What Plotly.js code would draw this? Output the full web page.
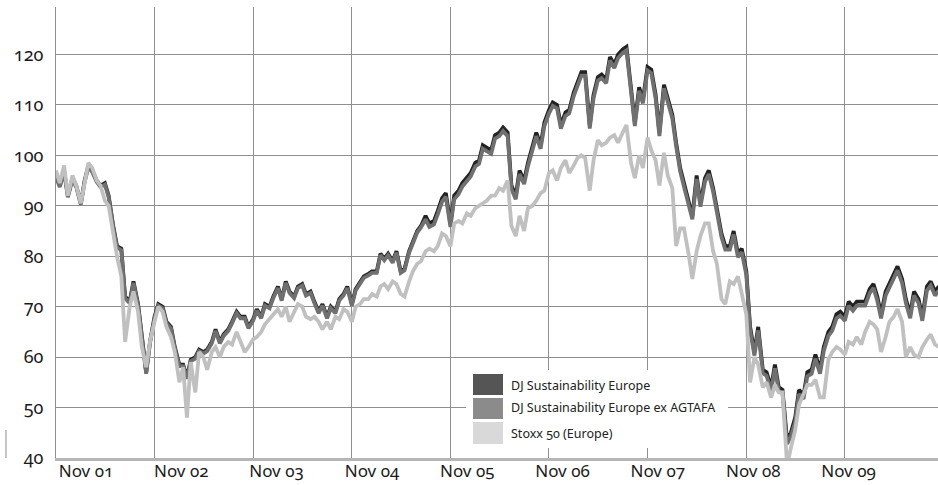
<!DOCTYPE html>
<html>
<head>
<meta charset="utf-8">
<script src="https://cdn.plot.ly/plotly-3.0.1.min.js"></script>
<style>
  html, body { margin: 0; padding: 0; background: #fff; }
  #chart { width: 938px; height: 485px; }
  svg text { font-feature-settings: "onum" 1; font-variant-numeric: oldstyle-nums; }
</style>
</head>
<body>
<div id="chart"></div>
<script>
const dates = [
"2001-11-01","2001-11-15","2001-12-01","2001-12-15",
"2002-01-01","2002-01-15","2002-02-01","2002-02-15","2002-03-01","2002-03-15","2002-04-01","2002-04-15","2002-05-01","2002-05-15","2002-06-01","2002-06-15","2002-07-01","2002-07-15","2002-08-01","2002-08-15","2002-09-01","2002-09-15","2002-10-01","2002-10-15","2002-11-01","2002-11-15","2002-12-01","2002-12-15",
"2003-01-01","2003-01-15","2003-02-01","2003-02-15","2003-03-01","2003-03-15","2003-04-01","2003-04-15","2003-05-01","2003-05-15","2003-06-01","2003-06-15","2003-07-01","2003-07-15","2003-08-01","2003-08-15","2003-09-01","2003-09-15","2003-10-01","2003-10-15","2003-11-01","2003-11-15","2003-12-01","2003-12-15",
"2004-01-01","2004-01-15","2004-02-01","2004-02-15","2004-03-01","2004-03-15","2004-04-01","2004-04-15","2004-05-01","2004-05-15","2004-06-01","2004-06-15","2004-07-01","2004-07-15","2004-08-01","2004-08-15","2004-09-01","2004-09-15","2004-10-01","2004-10-15","2004-11-01","2004-11-15","2004-12-01","2004-12-15",
"2005-01-01","2005-01-15","2005-02-01","2005-02-15","2005-03-01","2005-03-15","2005-04-01","2005-04-15","2005-05-01","2005-05-15","2005-06-01","2005-06-15","2005-07-01","2005-07-15","2005-08-01","2005-08-15","2005-09-01","2005-09-15","2005-10-01","2005-10-15","2005-11-01","2005-11-15","2005-12-01","2005-12-15",
"2006-01-01","2006-01-15","2006-02-01","2006-02-15","2006-03-01","2006-03-15","2006-04-01","2006-04-15","2006-05-01","2006-05-15","2006-06-01","2006-06-15","2006-07-01","2006-07-15","2006-08-01","2006-08-15","2006-09-01","2006-09-15","2006-10-01","2006-10-15","2006-11-01","2006-11-15","2006-12-01","2006-12-15",
"2007-01-01","2007-01-15","2007-02-01","2007-02-15","2007-03-01","2007-03-15","2007-04-01","2007-04-15","2007-05-01","2007-05-15","2007-06-01","2007-06-15","2007-07-01","2007-07-15","2007-08-01","2007-08-15","2007-09-01","2007-09-15","2007-10-01","2007-10-15","2007-11-01","2007-11-15","2007-12-01","2007-12-15",
"2008-01-01","2008-01-15","2008-02-01","2008-02-15","2008-03-01","2008-03-15","2008-04-01","2008-04-15","2008-05-01","2008-05-15","2008-06-01","2008-06-15","2008-07-01","2008-07-15","2008-08-01","2008-08-15","2008-09-01","2008-09-15","2008-10-01","2008-10-15","2008-11-01","2008-11-15","2008-12-01","2008-12-15",
"2009-01-01","2009-01-15","2009-02-01","2009-02-15","2009-03-01","2009-03-15","2009-04-01","2009-04-15","2009-05-01","2009-05-15","2009-06-01","2009-06-15","2009-07-01","2009-07-15","2009-08-01","2009-08-15","2009-09-01","2009-09-15","2009-10-01","2009-10-15","2009-11-01","2009-11-15","2009-12-01","2009-12-15",
"2010-01-01","2010-01-15","2010-02-01","2010-02-15","2010-03-01","2010-03-15","2010-04-01","2010-04-15","2010-05-01","2010-05-15","2010-06-01","2010-06-15","2010-07-01","2010-07-15","2010-08-01","2010-08-15","2010-09-01","2010-09-15","2010-10-01","2010-10-15"
];

const djsi = [
96,94,97,92,95.5,94,90.5,95,98,97,95,94,94.5,92,86,82,81.5,72,71,75,70.5,64,57,63,68,
70.5,70,67,66,62,58.5,58.5,56,59.5,60,61.5,61,61.5,63,65.5,63,64.5,65.5,67,69,68,68,66,67.5,
69.5,68,70.5,70,72,74,71.5,75,73,72,74,74.5,72.5,73,71,69,70.5,68,70,69,71.5,72.5,74,
70.5,73.5,75,76,76.5,77,77,80.5,79.5,80.5,79,81,77,77.5,81,83,85,86,88,86.5,87,89,
91.5,92.5,86.5,92,93,94.5,95.5,96.5,98.5,99,102,101.5,101,104,104.5,105.5,104.5,94,92,97,
95,98.5,101.5,104.5,102,106.5,109,110.5,110,106,108.5,109,112.5,114.5,116.5,116.5,106,112,
115.5,116,115,119.5,118,120,121,121.5,112.5,106.5,113.5,111,117.5,117,112,104.5,114,111,
108,102.5,97.5,94.5,90.5,88,96,90.5,95.5,97,93.5,89.5,84.5,82,82,85,80.5,81.5,77,66,61,
66,57.5,57,54,58.5,54,53.5,43.5,45,48,53.5,52.5,57,57.5,60.5,57.5,62,65,66,68.5,69,68,
71,70,71,71,71,73.5,74.5,72,68.5,73,74.5,76.5,78,75.5,71.5,68.5,73,71.5,68,74,75,73,74
];

const djsiEx = [
95.7,93.7,96.7,91.7,95.2,93.7,90.2,94.7,97.7,96.7,94.7,93.7,94.2,91.7,85.7,81.7,81.2,71.7,70.7,74.7,70.2,63.7,56.7,62.7,67.7,
70.2,69.7,66.7,65.7,61.7,58.2,58.2,55.7,59.2,59.7,61.2,60.7,61.2,62.7,65.2,62.7,64.2,65.2,66.7,68.7,67.7,67.7,65.7,67.2,
69.2,67.7,70.2,69.7,71.7,73.7,71.2,74.7,72.7,71.7,73.7,74.2,72.2,72.7,70.7,68.7,70.2,67.7,69.7,68.7,71.2,72.2,73.7,
70.2,73.2,74.7,75.7,76.2,76.7,76.7,80.2,79.2,80.2,78.7,80.7,76.7,77.2,80.7,82.7,84.7,85.7,87.3,85.8,86.3,88.3,
90.8,91.8,85.8,91.3,92.3,93.8,94.8,95.8,97.8,98.3,101.3,100.8,100.3,103.3,103.8,104.8,103.8,93.3,91.3,96.3,
94.3,97.8,100.8,103.8,101.3,105.8,108.3,109.8,109.3,105.3,107.8,108.3,111.8,113.8,115.8,115.8,105.3,111.3,
114.8,115.3,114.3,118.8,117.3,119.3,120.3,120.8,111.8,105.8,112.8,110.3,116.8,116.3,111.3,103.8,113.3,110.3,
107.3,101.8,96.8,93.8,89.8,87.3,95.3,89.8,94.8,96.3,92.8,88.8,83.8,81.3,81.3,84.3,79.8,80.8,76.3,65.3,60.3,
65.3,56.8,56.3,53.3,57.8,53.3,52.8,42.8,44.3,47.2,52.7,51.7,56.2,56.7,59.7,56.7,61.2,64.2,65.2,67.7,68.2,67.2,
70.2,69.2,70.2,70.2,70.2,72.7,73.7,71.2,67.7,72.2,73.7,75.7,77.2,74.7,70.7,67.7,72.2,70.7,67.2,73.2,74.2,72.2,73.2
];

const stoxx = [
97,94.5,98,92,96,94,90.5,95,98.5,97.5,95,94,91,90,84,80,76,63,70,73,69,62,58,63,67,
70,69,66,64,61,55,58,48,59,53,61,60,57.5,61,62,60,62,63,62.5,65,63,61,62,63.5,
64,65,66.5,67.5,68.5,69.5,68,70,67,69,70.5,70,68,67.5,68,67,65.5,67,65.5,68,67.5,69.5,69,
67,70,70.5,71.5,71.5,72.5,72,74,74.5,73.5,75,74.5,72.5,72,75,77,78.5,79,81,81.5,81,82,
84.5,84,82,86.5,87,86.5,88.5,88,89.5,90,90.5,91,92,92,93.5,93,95,86,84,88,
85,89.5,90,91,92.5,93,96.5,97,95,97.5,99,96.5,98,99.5,100,99.5,93,99,
103,102,102.5,103.5,104,102.5,104.5,106,98.5,95.5,100,97.5,103.5,101,99,94,100.5,96,
93.5,82,85.5,85.5,80.5,75.5,81,84,86.5,86.5,81,78.5,71.5,70.5,75,74.5,76,72.5,68.5,55,60,
58.5,54,55,52,54.5,53,53,38.5,42,45.5,50.5,52.5,54.5,54.5,55.5,52,52,59.5,61,62,61.5,60.5,
63,62.5,64,62.5,65,67,66.5,65.5,61,64,67,68,69.5,67,60,62,60.5,60,62,63.5,64.5,62.5,62
];

const seriesNames = ["DJ Sustainability Europe", "DJ Sustainability Europe ex AGTAFA", "Stoxx 50 (Europe)"];
const lineColors = ["#222222", "#707070", "#c0c0c0"];
const swatchColors = ["#555555", "#8b8b8b", "#d9d9d9"];

const gridDates = ["2001-11-01","2002-11-01","2003-11-01","2004-11-01","2005-11-01","2006-11-01","2007-11-01","2008-11-01","2009-11-01"];
const xTickText = ["Nov 01","Nov 02","Nov 03","Nov 04","Nov 05","Nov 06","Nov 07","Nov 08","Nov 09"];
const yTicks = [40,50,60,70,80,90,100,110,120];

const values = [djsi, djsiEx, stoxx];
const traces = values.map((v, k) => ({
  type: "scatter", mode: "lines", x: dates, y: v, name: seriesNames[k],
  line: {color: lineColors[k], width: 3.8}, showlegend: false, hoverinfo: "skip"
}));
// empty carrier so the label axis (x2) is drawn
traces.push({type: "scatter", mode: "lines", x: [], y: [], xaxis: "x2", yaxis: "y", showlegend: false, hoverinfo: "skip"});

const lx0 = 0.4728, lx1 = 0.5068;
const swY = [[0.1397, 0.1863], [0.0865, 0.1330], [0.0310, 0.0798]];
const txtY = [0.1608, 0.1109, 0.0554];
const shapes = [
  {type: "rect", xref: "paper", yref: "paper", x0: 0.4649, x1: 0.7619, y0: 0.0222, y1: 0.1951,
   fillcolor: "#ffffff", line: {width: 0}, layer: "above"},
  {type: "line", xref: "paper", yref: "paper", x0: -0.0567, x1: -0.0567, y0: 0.0, y1: 0.062,
   line: {color: "#8c8c8c", width: 1}}
];
const annotations = [];
seriesNames.forEach((n, k) => {
  shapes.push({type: "rect", xref: "paper", yref: "paper", x0: lx0, x1: lx1, y0: swY[k][0], y1: swY[k][1],
    fillcolor: swatchColors[k], line: {width: 0}, layer: "above"});
  annotations.push({xref: "paper", yref: "paper", x: 0.5136, y: txtY[k], xanchor: "left", yanchor: "middle",
    text: n, showarrow: false, font: {family: "Noto Sans, sans-serif", size: 12.5, color: "#222222"}});
});

const layout = {
  width: 938, height: 485,
  margin: {l: 56, r: 0, t: 7, b: 27},
  paper_bgcolor: "#ffffff", plot_bgcolor: "#ffffff",
  font: {family: "Noto Sans, sans-serif", size: 18, color: "#1a1a1a"},
  showlegend: false,
  xaxis: {
    type: "date", range: ["2001-11-01", "2010-10-12"],
    tickmode: "array", tickvals: gridDates, showticklabels: false,
    showgrid: true, gridcolor: "#8f8f8f", gridwidth: 1,
    showline: true, linecolor: "#b5b5b5", linewidth: 2.5, ticks: "", zeroline: false
  },
  xaxis2: {
    type: "date", overlaying: "x", anchor: "y", side: "bottom",
    range: ["2001-07-09", "2010-10-10"],
    tickmode: "array", tickvals: gridDates, ticktext: xTickText,
    showgrid: false, showline: false, ticks: "", zeroline: false,
    ticklabelstandoff: 1,
    tickfont: {family: "Noto Sans, sans-serif", size: 17, color: "#1a1a1a"}
  },
  yaxis: {
    range: [40, 129.4], tickmode: "array", tickvals: yTicks,
    showgrid: true, gridcolor: "#8f8f8f", gridwidth: 1,
    showline: true, linecolor: "#8f8f8f", linewidth: 1, ticks: "", zeroline: false,
    ticklabelstandoff: 8,
    tickfont: {family: "Noto Sans, sans-serif", size: 18, color: "#1a1a1a"}
  },
  shapes: shapes,
  annotations: annotations
};

Plotly.newPlot("chart", traces, layout, {staticPlot: true, displayModeBar: false});
</script>
</body>
</html>
